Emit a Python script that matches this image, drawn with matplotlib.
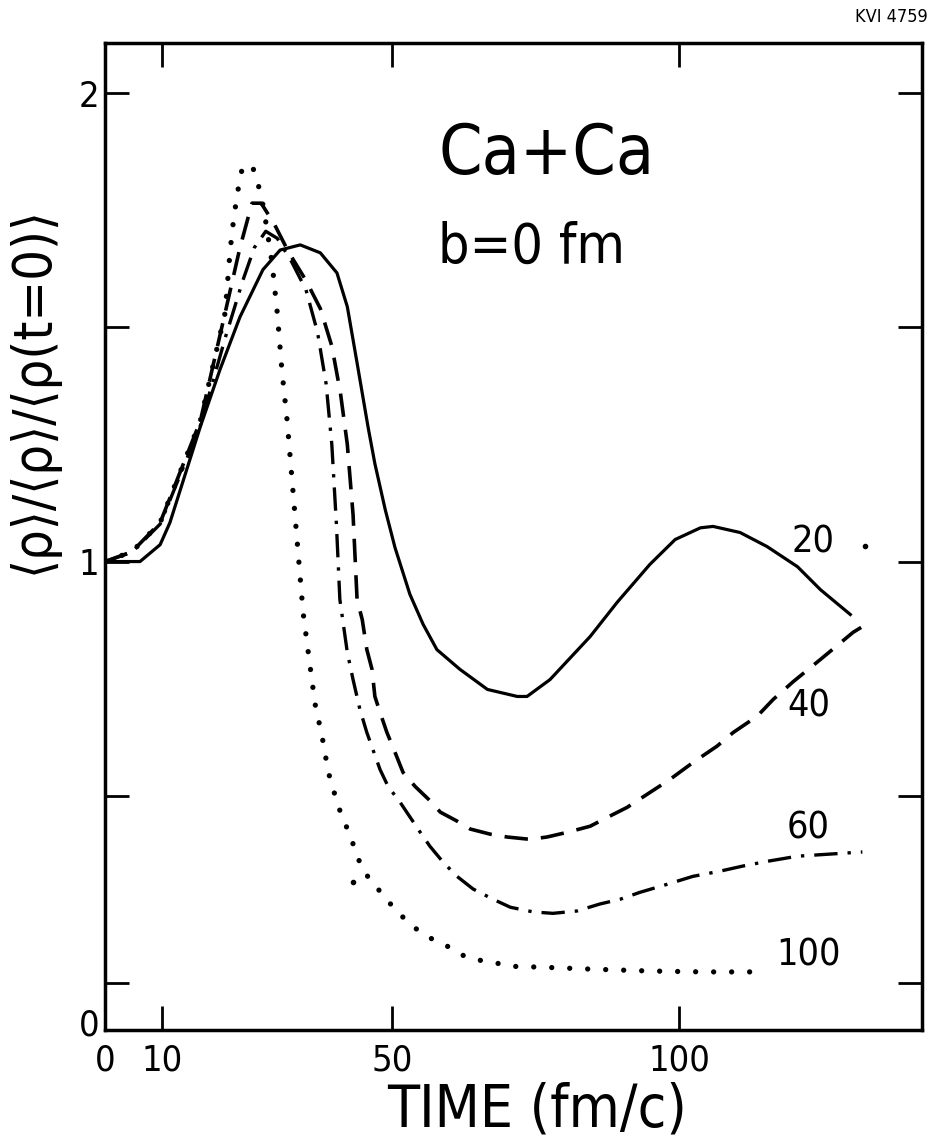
import matplotlib
matplotlib.use('Agg')
import matplotlib.pyplot as plt
from matplotlib import font_manager as fm
from matplotlib.transforms import ScaledTranslation

# the lettering is narrow: use a condensed face when one is installed
faces = [(f.name, f.stretch) for f in fm.fontManager.ttflist]
if any(n == 'Liberation Sans Narrow' for n, s in faces):
    plt.rcParams['font.family'] = ['Liberation Sans Narrow', 'DejaVu Sans']
    narrow = True
elif any(n == 'DejaVu Sans' and s == 'condensed' for n, s in faces):
    plt.rcParams['font.family'] = ['DejaVu Sans']
    plt.rcParams['font.stretch'] = 'condensed'
    narrow = True
else:
    plt.rcParams['font.family'] = ['DejaVu Sans']
    narrow = False
k = 1.0 if narrow else 0.86

# b = 0 fm, curves labelled by beam energy (MeV/nucleon)
t_20 = [0, 4.4, 6.1, 9.6, 11.3, 16.6, 20.0, 23.5, 27.5, 30.5, 34.0, 37.5, 40.4, 42.2, 43.9, 45.8,
        47.0, 48.8, 50.5, 53.1, 55.4, 57.8, 61.8, 66.6, 71.8, 73.5, 77.5, 84.5, 89.2, 94.9, 99.3,
        103.7, 105.9, 110.6, 115.3, 120.6, 124.6, 129.8]
rho_20 = [1.0, 1.0, 1.0, 1.036, 1.083, 1.288, 1.409, 1.522, 1.623, 1.665, 1.676, 1.659, 1.616,
          1.544, 1.424, 1.288, 1.209, 1.111, 1.030, 0.930, 0.866, 0.812, 0.770, 0.727, 0.712,
          0.712, 0.748, 0.840, 0.913, 0.994, 1.047, 1.072, 1.075, 1.062, 1.032, 0.989, 0.940,
          0.887]

t_40 = [0, 4.7, 9.6, 16.6, 20.9, 23.5, 25.6, 27.2, 29.5, 32.0, 35.0, 37.5, 39.5, 41.0, 42.2,
        43.2, 43.9, 44.8, 45.6, 46.5, 47.0, 47.9, 49.1, 50.5, 51.9, 54.0, 56.3, 58.4, 61.3, 63.6,
        67.1, 70.0, 74.0, 77.0, 80.5, 84.5, 87.5, 90.9, 94.9, 98.4, 102.4, 106.6, 109.4, 113.6,
        116.4, 119.9, 124.6, 130.3, 131.9]
rho_40 = [1.0, 1.021, 1.083, 1.30, 1.53, 1.67, 1.765, 1.765, 1.72, 1.66, 1.60, 1.54, 1.46, 1.36,
          1.25, 1.10, 0.919, 0.876, 0.812, 0.770, 0.712, 0.678, 0.635, 0.593, 0.55, 0.52, 0.493,
          0.465, 0.446, 0.429, 0.418, 0.412, 0.407, 0.412, 0.422, 0.435, 0.454, 0.475, 0.507,
          0.535, 0.571, 0.606, 0.635, 0.67, 0.706, 0.744, 0.791, 0.849, 0.861]

t_60 = [0, 4.7, 9.6, 16.6, 21.0, 24.0, 26.0, 28.0, 30.0, 32.5, 35.0, 37.0, 38.5, 39.5, 40.3,
        40.9, 42.2, 43.2, 44.4, 45.6, 47.9, 49.3, 51.4, 54.9, 56.6, 58.9, 61.3, 64.1, 67.6, 70.6,
        74.6, 78.0, 82.2, 86.2, 89.7, 93.2, 97.9, 102.4, 107.1, 111.1, 115.3, 120.6, 131.9]
rho_60 = [1.0, 1.02, 1.08, 1.29, 1.48, 1.60, 1.67, 1.705, 1.69, 1.64, 1.58, 1.49, 1.38, 1.25,
          1.08, 0.919, 0.806, 0.748, 0.684, 0.635, 0.556, 0.520, 0.486, 0.422, 0.392, 0.358,
          0.328, 0.301, 0.279, 0.262, 0.252, 0.249, 0.254, 0.269, 0.279, 0.294, 0.311, 0.328,
          0.339, 0.350, 0.360, 0.371, 0.380]

t_100 = [0, 4.7, 9.6, 16.6, 20.9, 21.8, 22.3, 23.0, 23.9, 25.6, 26.5, 27.4, 27.9, 29.1, 30.0,
         30.8, 31.7, 34.5, 35.4, 36.6, 37.8, 38.9, 40.6, 42.7, 44.8, 46.5, 48.3, 50.2, 52.6, 54.9,
         57.0, 59.6, 61.8, 64.1, 67.4, 70.6, 76.3, 84.5, 94.6, 104.2, 114.6]
rho_100 = [1.0, 1.021, 1.083, 1.30, 1.53, 1.665, 1.72, 1.783, 1.84, 1.846, 1.814, 1.768, 1.733,
           1.637, 1.531, 1.409, 1.303, 0.891, 0.806, 0.695, 0.627, 0.55, 0.478, 0.414, 0.343,
           0.316, 0.29, 0.262, 0.232, 0.209, 0.194, 0.179, 0.162, 0.151, 0.145, 0.136, 0.134,
           0.13, 0.126, 0.124, 0.124]

# scan specks
speck_t = [43.2, 132.4]
speck_rho = [0.316, 1.034]

curve_names = ['20', '40', '60', '100']
label_t = [123.3, 122.5, 122.5, 122.5]
label_rho = [1.04, 0.69, 0.43, 0.16]

fig = plt.figure(figsize=(9.31, 11.40), dpi=100)
ax = fig.add_axes([0.1128, 0.0965, 0.8776, 0.8658])

ax.plot(t_20, rho_20, color='black', lw=2.3)
ax.plot(t_40, rho_40, color='black', lw=2.6, dashes=(6.5, 3.6))
ax.plot(t_60, rho_60, color='black', lw=2.4, dashes=(7, 3, 1, 3))
ax.plot(t_100, rho_100, color='black', lw=3.8, dashes=(0.01, 3.4), dash_capstyle='round')
ax.plot(speck_t, speck_rho, 'o', color='black', ms=3)

for name, tx, ty in zip(curve_names, label_t, label_rho):
    ax.text(tx, ty, name, fontsize=27 * k, ha='center', va='center')

ax.text(0.408, 0.867, 'Ca+Ca', transform=ax.transAxes, fontsize=50 * k, ha='left', va='baseline')
ax.text(0.408, 0.777, 'b=0 fm', transform=ax.transAxes, fontsize=40 * k, ha='left', va='baseline')
fig.text(0.997, 0.993, 'KVI 4759', fontsize=13 * k, ha='right', va='top')

ax.set_xlim(0, 142.3)
ax.set_ylim(0, 2.107)

ax.set_xticks([0, 10, 50, 100])
ax.set_xticklabels(['0', '10', '50', '100'])
ax.set_yticks([0, 0.1, 0.5, 1, 1.5, 2])
ax.set_yticklabels(['0', '', '', '1', '', '2'])
ax.tick_params(direction='in', length=17, width=2, labelsize=26 * k,
               top=True, right=True)
ax.tick_params(axis='x', pad=10)
ax.tick_params(axis='y', pad=4)
for s in ax.spines.values():
    s.set_linewidth(2.5)

# y label "0" sits a little above the corner
zero = ax.yaxis.get_major_ticks()[0].label1
zero.set_transform(zero.get_transform() + ScaledTranslation(0, 6 / 72, fig.dpi_scale_trans))

ax.set_xlabel('TIME (fm/c)', fontsize=42 * k, va='top')
ax.xaxis.set_label_coords(0.529, -0.052)
ax.set_ylabel('⟨ρ⟩/⟨ρ⟩/⟨ρ(t=0)⟩', fontsize=39 * k, family=['DejaVu Sans'], va='center')
ax.yaxis.set_label_coords(-0.088, 0.648)

fig.savefig('out.png', dpi=100)
